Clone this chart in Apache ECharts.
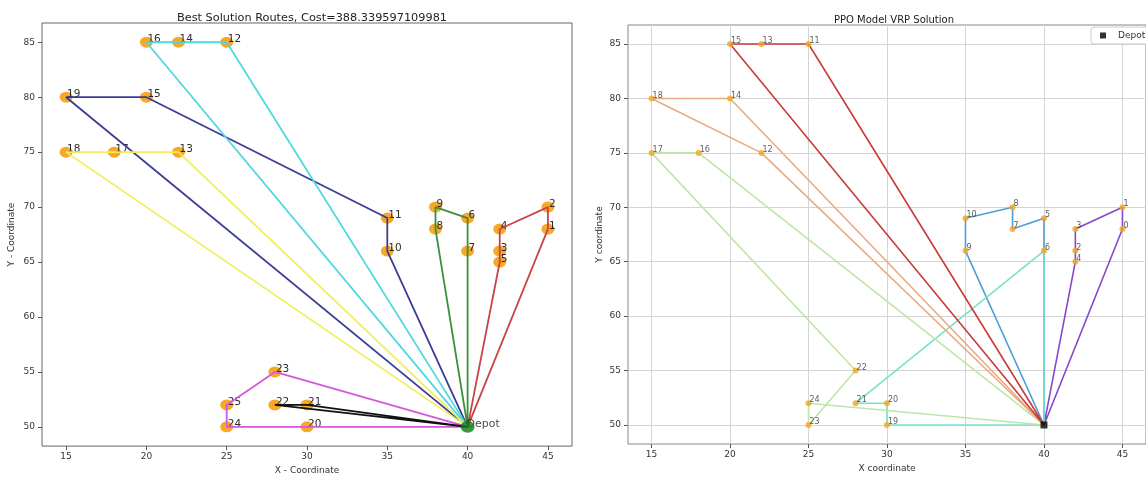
<!DOCTYPE html>
<html>
<head>
<meta charset="utf-8">
<script src="https://cdn.jsdelivr.net/npm/echarts@6/dist/echarts.min.js"></script>
<style>html,body{margin:0;padding:0;background:#fff;}#chart{width:1146px;height:480px;}</style>
</head>
<body>
<div id="chart"></div>
<script>
// ---- data ----
const depot = [40, 50];
const custX = [45, 45, 42, 42, 42, 40, 40, 38, 38, 35, 35, 25, 22, 22, 20, 20, 18, 15, 15, 30, 30, 28, 28, 25, 25];
const custY = [68, 70, 66, 68, 65, 69, 66, 68, 70, 66, 69, 85, 75, 85, 80, 85, 75, 75, 80, 50, 52, 52, 55, 50, 52];
const leftLabels = ['1','2','3','4','5','6','7','8','9','10','11','12','13','14','15','16','17','18','19','20','21','22','23','24','25'];
const rightLabels = ['0','1','2','3','4','5','6','7','8','9','10','11','12','13','14','15','16','17','18','19','20','21','22','23','24'];
const xTicks = [15, 20, 25, 30, 35, 40, 45];
const yTicks = [50, 55, 60, 65, 70, 75, 80, 85];
// left routes: 'D' = depot, numbers = left labels (1-based)
const leftRoutes = [
  ['D', 1, 2, 4, 3, 5, 'D'],
  ['D', 7, 6, 9, 8, 'D'],
  ['D', 10, 11, 15, 19, 'D'],
  ['D', 12, 14, 16, 'D'],
  ['D', 13, 17, 18, 'D'],
  ['D', 20, 24, 25, 23, 'D'],
  ['D', 21, 22, 'D']
];
const leftRouteColors = ['#c94444', '#3a8f3a', '#3c3c96', '#4fd8e0', '#f0ee5c', '#d459d8', '#111111'];
// right routes: 'D' = depot, numbers = right labels (0-based)
const rightRoutes = [
  ['D', 0, 1, 3, 2, 4, 'D'],
  ['D', 9, 10, 8, 7, 5, 'D'],
  ['D', 19, 20, 21, 6, 'D'],
  ['D', 24, 23, 22, 17, 16, 'D'],
  ['D', 12, 18, 14, 'D'],
  ['D', 11, 13, 15, 'D']
];
const rightRouteColors = ['#8a45cc', '#4b9fd5', '#78e2cc', '#bde6a8', '#e6ab82', '#c93a3a'];

// ---- build ----
const FONT = 'DejaVu Sans';
function pt(node, base) {
  if (node === 'D') return depot.slice();
  const i = node - base;
  return [custX[i], custY[i]];
}
const series = [];
// left chart
series.push({
  type: 'scatter', xAxisIndex: 0, yAxisIndex: 0, z: 2, name: 'nodesL',
  symbol: 'circle', symbolSize: [13, 11],
  itemStyle: { color: '#f5a31a', opacity: 0.95 },
  data: custX.map((x, i) => ({ value: [x, custY[i]], name: leftLabels[i] })),
  label: { show: true, formatter: '{b}', position: 'inside', align: 'left', verticalAlign: 'middle',
    offset: [1, -3], fontSize: 10.5, fontFamily: FONT, color: '#222' },
  silent: true
});
leftRoutes.forEach((r, k) => {
  series.push({
    type: 'line', xAxisIndex: 0, yAxisIndex: 0, z: 3, name: 'routeL' + k,
    symbol: 'none', smooth: false,
    lineStyle: { color: leftRouteColors[k], width: 1.8 },
    data: r.map(n => pt(n, 1)), silent: true
  });
});
series.push({
  type: 'scatter', xAxisIndex: 0, yAxisIndex: 0, z: 4, name: 'depotLabelL',
  symbolSize: 1, itemStyle: { color: 'rgba(0,0,0,0)' },
  data: [{ value: depot, name: 'Depot' }],
  label: { show: true, formatter: '{b}', position: 'inside', align: 'left', verticalAlign: 'middle',
    offset: [-1, -3], fontSize: 11, fontFamily: FONT, color: '#222' },
  silent: true
});
series.push({
  type: 'scatter', xAxisIndex: 0, yAxisIndex: 0, z: 5, name: 'depotL',
  symbol: 'circle', symbolSize: [14, 12], itemStyle: { color: '#0b7a16' },
  data: [depot], silent: true
});
// right chart
rightRoutes.forEach((r, k) => {
  series.push({
    type: 'line', xAxisIndex: 1, yAxisIndex: 1, z: 2, name: 'routeR' + k,
    symbol: 'none', smooth: false,
    lineStyle: { color: rightRouteColors[k], width: 1.6 },
    data: r.map(n => pt(n, 0)), silent: true
  });
});
series.push({
  type: 'scatter', xAxisIndex: 1, yAxisIndex: 1, z: 3, name: 'nodesR',
  symbol: 'circle', symbolSize: 6,
  itemStyle: { color: '#f0a622' },
  data: custX.map((x, i) => ({ value: [x, custY[i]], name: rightLabels[i] })),
  label: { show: true, formatter: '{b}', position: 'inside', align: 'left', verticalAlign: 'middle',
    offset: [1, -3], fontSize: 8, fontFamily: FONT, color: '#333' },
  silent: true
});
series.push({
  type: 'scatter', xAxisIndex: 1, yAxisIndex: 1, z: 4, name: 'Depot',
  symbol: 'rect', symbolSize: 7, itemStyle: { color: '#000' },
  data: [depot], silent: true
});

function xAxisOpt(grid, name, gap, grid2) {
  return {
    type: 'value', gridIndex: grid, min: 13.5, max: 46.5,
    name: name, nameLocation: 'middle', nameGap: gap,
    nameTextStyle: { fontSize: 9, fontFamily: FONT, color: '#333' },
    axisLine: { show: false },
    axisTick: { show: true, customValues: xTicks, length: 4, lineStyle: { color: '#555' } },
    axisLabel: { customValues: xTicks, fontSize: 9, fontFamily: FONT, color: '#333', margin: 6 },
    splitLine: { show: grid2, lineStyle: { color: '#d4d4d4', width: 1 } }
  };
}
function yAxisOpt(grid, name, gap, grid2) {
  return {
    type: 'value', gridIndex: grid, min: 48.25, max: 86.75,
    name: name, nameLocation: 'middle', nameGap: gap, nameRotate: 90,
    nameTextStyle: { fontSize: 9, fontFamily: FONT, color: '#333' },
    axisLine: { show: false },
    axisTick: { show: true, customValues: yTicks, length: 4, lineStyle: { color: '#555' } },
    axisLabel: { customValues: yTicks, fontSize: 9, fontFamily: FONT, color: '#333', margin: 7 },
    splitLine: { show: grid2, lineStyle: { color: '#d4d4d4', width: 1 } }
  };
}

const option = {
  animation: false,
  backgroundColor: '#fff',
  textStyle: { fontFamily: FONT },
  title: [
    { text: 'Best Solution Routes, Cost=388.339597109981', left: 307, top: 8, textAlign: 'center',
      textStyle: { fontSize: 11.3, fontWeight: 'normal', color: '#222', fontFamily: FONT } },
    { text: 'PPO Model VRP Solution', left: 889, top: 10, textAlign: 'center',
      textStyle: { fontSize: 10, fontWeight: 'normal', color: '#222', fontFamily: FONT } }
  ],
  legend: {
    data: [{ name: 'Depot', icon: 'rect' }],
    left: 1091, top: 27, orient: 'vertical',
    itemWidth: 6, itemHeight: 6, itemGap: 4,
    textStyle: { fontSize: 9, fontFamily: FONT, color: '#333', padding: [0, 0, 0, 7] },
    borderColor: '#cccccc', borderWidth: 1, borderRadius: 3,
    padding: [4, 12, 4, 9], backgroundColor: '#fff'
  },
  grid: [
    { left: 42, top: 23, width: 530, height: 431, show: true, borderColor: '#666', borderWidth: 1, backgroundColor: '#fff' },
    { left: 628, top: 25, width: 523, height: 419, show: true, borderColor: '#888', borderWidth: 1, backgroundColor: '#fff' }
  ],
  xAxis: [xAxisOpt(0, 'X - Coordinate', 16, false), xAxisOpt(1, 'X coordinate', 14, true)],
  yAxis: [yAxisOpt(0, 'Y - Coordinate', 26, false), yAxisOpt(1, 'Y coordinate', 24, true)],
  series: series
};
const chart = echarts.init(document.getElementById('chart'), null, { renderer: 'canvas' });
chart.setOption(option);
</script>
</body>
</html>
